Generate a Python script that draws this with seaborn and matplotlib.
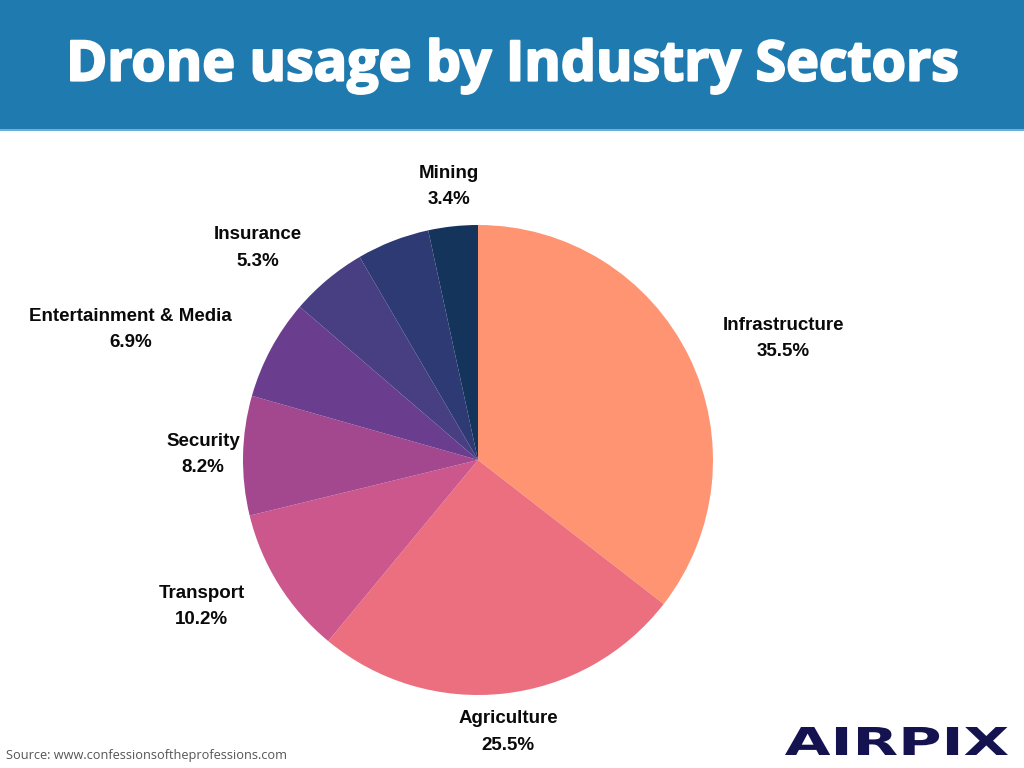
import numpy as np
import matplotlib
matplotlib.use("Agg")
import matplotlib.pyplot as plt
import matplotlib.patheffects as pe
import seaborn as sns
from matplotlib.textpath import TextPath
from matplotlib.font_manager import FontProperties
from matplotlib.patches import PathPatch, Rectangle
from matplotlib.transforms import Affine2D

# ---- data ----
sectors = ["Infrastructure", "Agriculture", "Transport", "Security",
           "Entertainment & Media", "Insurance", "", "Mining"]
shares = [35.5, 25.5, 10.2, 8.2, 6.9, 5.3, 5.0, 3.4]
colors = ["#FF9473", "#EC6F7F", "#CC578D", "#A3478F",
          "#6B3D8F", "#473F82", "#2D3A73", "#14345C"]
label_dist = [1.40, 1.165, 1.33, 1.17, 1.58, 1.30, 1.2, 1.17]
label_shift = [4.4, 0, 4.1, 0, -7.7, -6.3, 0, 0]  # degrees, label placement tweak

title = "Drone usage by Industry Sectors"
source = "Source: www.confessionsoftheprofessions.com"
brand = "AIRPIX"

sns.set_theme(style="white")
plt.rcParams["font.family"] = ["Liberation Sans", "DejaVu Sans"]

W, H = 1024, 768
fig = plt.figure(figsize=(W / 100, H / 100), dpi=100)
fig.patch.set_facecolor("white")

# header band
fig.add_artist(Rectangle((0, 1 - 129 / H), 1, 129 / H, transform=fig.transFigure,
                         facecolor="#1F7BAF", edgecolor="none"))
fig.add_artist(Rectangle((0, 1 - 131 / H), 1, 2 / H, transform=fig.transFigure,
                         facecolor="#6FB0D8", edgecolor="none"))
fig.text(0.5, 1 - 66 / H, title, ha="center", va="center", color="white",
         fontsize=40, fontweight="bold", family=["Open Sans", "DejaVu Sans"],
         path_effects=[pe.withStroke(linewidth=1.6, foreground="white")])

# pie
cx, cy, r = 478, 460, 235
ax = fig.add_axes([(cx - r) / W, (H - cy - r) / H, 2 * r / W, 2 * r / H])
wedges, _ = ax.pie(shares, colors=colors, startangle=90, counterclock=False,
                   wedgeprops=dict(linewidth=0))
ax.set_xlim(-1, 1)
ax.set_ylim(-1, 1)
ax.set_aspect("equal")
ax.axis("off")

for w, name, val, d, sh in zip(wedges, sectors, shares, label_dist, label_shift):
    if not name:
        continue
    theta = np.deg2rad((w.theta1 + w.theta2) / 2 - sh)
    x, y = d * np.cos(theta), d * np.sin(theta)
    ax.text(x, y, f"{name}\n{val}%", ha="center", va="center",
            fontsize=13.5, fontweight="bold", color="#0A0A0A",
            linespacing=1.72, clip_on=False)

# source
fig.text(6 / W, 1 - 756 / H, source, ha="left", va="center", color="#555555",
         fontsize=9.2, family=["Open Sans", "DejaVu Sans"])

# brand logo as stretched text path
fp = FontProperties(family="DejaVu Sans", weight="bold")
tp = TextPath((0, 0), brand, size=1, prop=fp)
ext = tp.get_extents()
sx = 223 / ext.width
sy = 28 / ext.height
tr = Affine2D().translate(-ext.x0, -ext.y0).scale(sx, sy).translate(785, H - 755)
patch = PathPatch(tr.transform_path(tp), facecolor="#14134F", edgecolor="none",
                  transform=None)
fig.add_artist(patch)

fig.savefig("out.png", dpi=100, facecolor="white")
